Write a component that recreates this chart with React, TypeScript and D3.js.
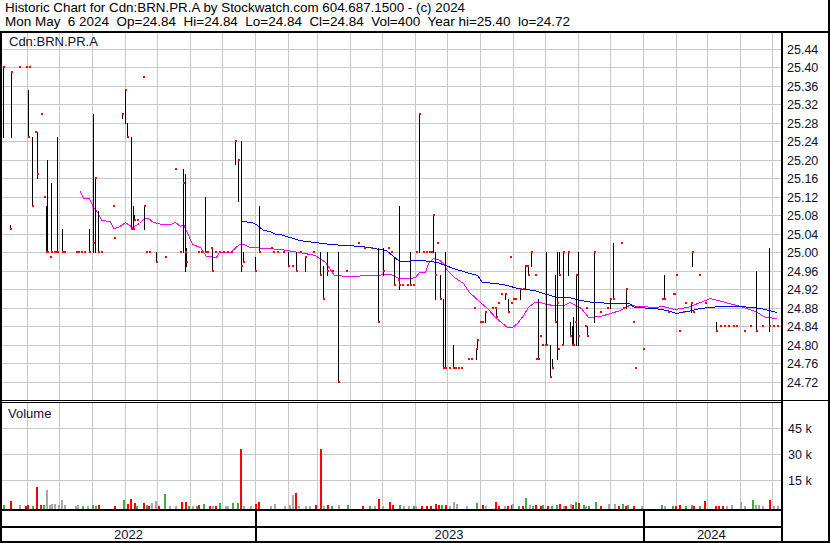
import React from 'react';
import * as d3 from 'd3';

const titleLine1 = 'Historic Chart for Cdn:BRN.PR.A by Stockwatch.com 604.687.1500 - (c) 2024';
const titleLine2 = 'Mon May  6 2024  Op=24.84  Hi=24.84  Lo=24.84  Cl=24.84  Vol=400  Year hi=25.40  lo=24.72';
const symbolLabel = 'Cdn:BRN.PR.A';
const volumeLabel = 'Volume';

const priceTicks = [25.44, 25.40, 25.36, 25.32, 25.28, 25.24, 25.20, 25.16, 25.12, 25.08, 25.04, 25.00, 24.96, 24.92, 24.88, 24.84, 24.80, 24.76, 24.72];
const volumeTicks = [15000, 30000, 45000];
const volumeTickLabels = ['15 k', '30 k', '45 k'];
const monthStarts = ['2022-06-01', '2022-07-01', '2022-08-01', '2022-09-01', '2022-10-01', '2022-11-01', '2022-12-01', '2023-01-01', '2023-02-01', '2023-03-01', '2023-04-01', '2023-05-01', '2023-06-01', '2023-07-01', '2023-08-01', '2023-09-01', '2023-10-01', '2023-11-01', '2023-12-01', '2024-01-01', '2024-02-01', '2024-03-01', '2024-04-01', '2024-05-01'];
const years = ['2022', '2023', '2024'];
const yearBounds = ['2022-05-09', '2023-01-01', '2024-01-01', '2024-05-08'];

// [date, high, low, close]
const priceBars: [string, number, number, number][] = [
  ['2022-05-10', 25.40, 25.25, 25.40], ['2022-05-16', 25.06, 25.05, 25.05], ['2022-05-17', 25.39, 25.25, 25.39],
  ['2022-05-25', 25.40, 25.40, 25.40], ['2022-05-31', 25.40, 25.40, 25.40], ['2022-06-02', 25.35, 25.25, 25.25],
  ['2022-06-03', 25.40, 25.40, 25.40], ['2022-06-06', 25.25, 25.10, 25.10], ['2022-06-09', 25.26, 25.26, 25.26],
  ['2022-06-11', 25.26, 25.16, 25.17], ['2022-06-14', 25.30, 25.30, 25.30], ['2022-06-17', 25.12, 25.12, 25.12],
  ['2022-06-19', 25.10, 25.00, 25.00], ['2022-06-20', 25.20, 25.00, 25.00], ['2022-06-23', 24.99, 24.99, 24.99],
  ['2022-06-24', 25.15, 25.00, 25.00], ['2022-06-27', 25.00, 25.00, 25.00], ['2022-06-28', 25.00, 25.00, 25.00],
  ['2022-06-29', 25.25, 25.00, 25.00], ['2022-07-04', 25.05, 25.00, 25.00], ['2022-07-06', 25.00, 25.00, 25.00],
  ['2022-07-17', 25.00, 25.00, 25.00], ['2022-07-19', 25.00, 25.00, 25.00], ['2022-07-22', 25.00, 25.00, 25.00],
  ['2022-07-25', 25.00, 25.00, 25.00], ['2022-07-29', 25.05, 25.00, 25.00], ['2022-08-02', 25.30, 25.00, 25.02],
  ['2022-08-04', 25.16, 25.00, 25.16], ['2022-08-07', 25.09, 25.00, 25.00], ['2022-08-10', 25.00, 25.00, 25.00],
  ['2022-08-21', 25.10, 25.10, 25.10], ['2022-08-22', 25.03, 25.03, 25.03], ['2022-08-29', 25.30, 25.29, 25.30],
  ['2022-09-01', 25.35, 25.28, 25.35], ['2022-09-03', 25.28, 25.25, 25.25], ['2022-09-07', 25.25, 25.05, 25.05],
  ['2022-09-09', 25.10, 25.05, 25.05], ['2022-09-10', 25.08, 25.07, 25.07], ['2022-09-13', 25.07, 25.07, 25.07],
  ['2022-09-18', 25.38, 25.38, 25.38], ['2022-09-19', 25.10, 25.05, 25.10], ['2022-09-21', 25.00, 25.00, 25.00],
  ['2022-09-24', 25.00, 25.00, 25.00], ['2022-09-30', 25.00, 24.98, 24.98], ['2022-10-09', 24.99, 24.99, 24.99],
  ['2022-10-18', 25.18, 25.18, 25.18], ['2022-10-23', 25.00, 25.00, 25.00], ['2022-10-26', 25.18, 25.00, 25.15],
  ['2022-10-28', 25.17, 24.96, 25.00], ['2022-10-29', 25.01, 24.97, 24.98], ['2022-11-09', 25.00, 25.00, 25.00],
  ['2022-11-12', 25.00, 25.00, 25.00], ['2022-11-15', 25.12, 25.00, 25.00], ['2022-11-17', 25.00, 25.00, 25.00],
  ['2022-11-21', 25.01, 25.01, 25.01], ['2022-11-22', 25.01, 24.96, 24.96], ['2022-11-25', 25.00, 25.00, 25.00],
  ['2022-11-29', 25.00, 25.00, 25.00], ['2022-12-02', 25.00, 25.00, 25.00], ['2022-12-06', 25.00, 25.00, 25.00],
  ['2022-12-10', 25.00, 25.00, 25.00], ['2022-12-14', 25.24, 25.19, 25.24], ['2022-12-16', 25.20, 25.11, 25.20],
  ['2022-12-19', 25.24, 24.96, 24.97], ['2022-12-21', 25.00, 24.98, 24.98], ['2023-01-01', 24.99, 24.96, 24.96],
  ['2023-01-05', 25.10, 25.00, 25.00], ['2023-01-16', 25.01, 25.01, 25.01], ['2023-01-18', 25.00, 25.00, 25.00],
  ['2023-01-22', 25.00, 25.00, 25.00], ['2023-01-28', 25.00, 25.00, 25.00], ['2023-02-01', 25.00, 24.97, 24.97],
  ['2023-02-05', 24.97, 24.97, 24.97], ['2023-02-09', 25.00, 24.96, 24.96], ['2023-02-13', 25.00, 25.00, 25.00],
  ['2023-02-17', 24.99, 24.96, 24.99], ['2023-02-25', 25.00, 25.00, 25.00], ['2023-03-03', 25.00, 24.95, 24.95],
  ['2023-03-06', 24.97, 24.90, 24.90], ['2023-03-10', 25.00, 24.95, 24.96], ['2023-03-15', 24.96, 24.96, 24.96],
  ['2023-03-20', 25.00, 24.72, 24.72], ['2023-03-28', 24.96, 24.96, 24.96], ['2023-04-08', 25.02, 25.02, 25.02],
  ['2023-04-14', 25.01, 25.01, 25.01], ['2023-04-20', 25.01, 25.01, 25.01], ['2023-04-27', 25.01, 24.85, 24.85],
  ['2023-05-02', 25.01, 24.95, 24.96], ['2023-05-06', 25.01, 25.01, 25.01], ['2023-05-09', 25.00, 25.00, 25.00],
  ['2023-05-12', 24.99, 24.93, 24.93], ['2023-05-16', 24.94, 24.94, 24.94], ['2023-05-17', 25.10, 24.92, 24.93],
  ['2023-05-19', 24.93, 24.93, 24.93], ['2023-05-24', 24.93, 24.93, 24.93], ['2023-05-27', 25.00, 24.93, 24.93],
  ['2023-05-30', 24.93, 24.93, 24.93], ['2023-06-02', 25.00, 25.00, 25.00], ['2023-06-04', 25.30, 25.00, 25.30],
  ['2023-06-08', 25.00, 25.00, 25.00], ['2023-06-11', 25.00, 25.00, 25.00], ['2023-06-14', 25.00, 25.00, 25.00],
  ['2023-06-16', 25.00, 25.00, 25.00], ['2023-06-18', 25.08, 25.00, 25.08], ['2023-06-19', 25.00, 24.90, 24.95],
  ['2023-06-21', 25.02, 25.02, 25.02], ['2023-06-24', 24.95, 24.90, 24.90], ['2023-06-27', 24.90, 24.75, 24.75],
  ['2023-06-29', 25.00, 24.75, 24.75], ['2023-07-03', 24.75, 24.75, 24.75], ['2023-07-06', 24.80, 24.75, 24.75],
  ['2023-07-08', 24.75, 24.75, 24.75], ['2023-07-11', 24.75, 24.75, 24.75], ['2023-07-14', 24.75, 24.75, 24.75],
  ['2023-07-20', 24.77, 24.77, 24.77], ['2023-07-23', 24.77, 24.77, 24.77], ['2023-07-26', 24.88, 24.88, 24.88],
  ['2023-07-28', 24.79, 24.77, 24.79], ['2023-07-29', 24.81, 24.79, 24.81], ['2023-08-01', 24.85, 24.85, 24.85],
  ['2023-08-03', 24.85, 24.85, 24.85], ['2023-08-05', 24.87, 24.85, 24.87], ['2023-08-12', 24.88, 24.88, 24.88],
  ['2023-08-15', 24.88, 24.88, 24.88], ['2023-08-16', 24.88, 24.86, 24.86], ['2023-08-18', 24.89, 24.89, 24.89],
  ['2023-08-20', 24.91, 24.91, 24.91], ['2023-08-24', 24.91, 24.90, 24.91], ['2023-08-27', 24.90, 24.87, 24.87],
  ['2023-08-29', 24.99, 24.99, 24.99], ['2023-08-30', 24.89, 24.89, 24.89], ['2023-09-01', 24.90, 24.90, 24.90],
  ['2023-09-03', 24.90, 24.90, 24.90], ['2023-09-07', 24.92, 24.90, 24.92], ['2023-09-10', 24.92, 24.92, 24.92],
  ['2023-09-12', 24.97, 24.92, 24.97], ['2023-09-14', 24.97, 24.97, 24.97], ['2023-09-15', 24.97, 24.95, 24.95],
  ['2023-09-18', 25.00, 24.97, 25.00], ['2023-09-21', 24.95, 24.95, 24.95], ['2023-09-22', 24.77, 24.77, 24.77],
  ['2023-09-24', 24.90, 24.77, 24.77], ['2023-09-26', 24.82, 24.82, 24.82], ['2023-09-28', 24.80, 24.80, 24.80],
  ['2023-10-01', 24.80, 24.80, 24.80], ['2023-10-02', 25.00, 24.80, 24.80], ['2023-10-05', 24.80, 24.73, 24.73],
  ['2023-10-07', 24.77, 24.75, 24.75], ['2023-10-10', 24.95, 24.85, 24.85], ['2023-10-12', 25.00, 24.77, 24.89],
  ['2023-10-13', 24.79, 24.79, 24.79], ['2023-10-14', 25.00, 24.95, 24.95], ['2023-10-17', 24.80, 24.80, 24.80],
  ['2023-10-18', 25.00, 24.80, 25.00], ['2023-10-22', 25.00, 24.95, 25.00], ['2023-10-24', 24.85, 24.82, 24.82],
  ['2023-10-26', 24.84, 24.80, 24.80], ['2023-10-27', 24.86, 24.80, 24.80], ['2023-10-29', 24.85, 24.85, 24.85],
  ['2023-10-30', 24.95, 24.80, 24.95], ['2023-11-01', 25.00, 24.80, 24.82], ['2023-11-07', 24.84, 24.84, 24.84],
  ['2023-11-08', 24.88, 24.88, 24.88], ['2023-11-09', 24.84, 24.82, 24.82], ['2023-11-16', 25.00, 24.85, 25.00],
  ['2023-11-21', 24.87, 24.87, 24.87], ['2023-11-28', 24.88, 24.88, 24.88], ['2023-12-01', 24.90, 24.88, 24.90],
  ['2023-12-04', 25.02, 24.90, 24.90], ['2023-12-11', 25.02, 25.02, 25.02], ['2023-12-13', 24.88, 24.88, 24.88],
  ['2023-12-16', 24.92, 24.88, 24.92], ['2023-12-22', 24.85, 24.85, 24.85], ['2023-12-24', 24.75, 24.75, 24.75],
  ['2024-01-01', 24.79, 24.79, 24.79], ['2024-01-19', 24.90, 24.90, 24.90], ['2024-01-21', 24.95, 24.90, 24.90],
  ['2024-01-24', 24.87, 24.87, 24.87], ['2024-01-29', 24.91, 24.91, 24.91], ['2024-01-30', 24.91, 24.91, 24.91],
  ['2024-02-01', 24.95, 24.95, 24.95], ['2024-02-04', 24.83, 24.83, 24.83], ['2024-02-07', 24.87, 24.87, 24.87],
  ['2024-02-09', 24.89, 24.89, 24.89], ['2024-02-15', 24.89, 24.87, 24.89], ['2024-02-16', 25.00, 24.97, 25.00],
  ['2024-02-17', 24.87, 24.87, 24.87], ['2024-02-22', 24.95, 24.95, 24.95], ['2024-02-28', 24.89, 24.89, 24.89],
  ['2024-03-09', 24.85, 24.83, 24.83], ['2024-03-13', 24.84, 24.84, 24.84], ['2024-03-17', 24.84, 24.84, 24.84],
  ['2024-03-21', 24.84, 24.84, 24.84], ['2024-03-25', 24.84, 24.84, 24.84], ['2024-03-28', 24.84, 24.84, 24.84],
  ['2024-04-05', 24.83, 24.83, 24.83], ['2024-04-10', 24.84, 24.84, 24.84], ['2024-04-16', 24.96, 24.83, 24.83],
  ['2024-04-22', 24.84, 24.84, 24.84], ['2024-04-28', 25.01, 24.83, 24.84], ['2024-05-02', 24.84, 24.84, 24.84],
  ['2024-05-06', 24.84, 24.84, 24.84],
];

// [date, volume, direction]  u = up, d = down, n = unchanged
const volumes: [string, number, string][] = [
  ['2022-05-10', 600, 'u'], ['2022-05-16', 3100, 'd'], ['2022-05-25', 800, 'n'], ['2022-05-30', 300, 'd'],
  ['2022-06-01', 600, 'd'], ['2022-06-06', 300, 'u'], ['2022-06-10', 11100, 'd'], ['2022-06-13', 600, 'd'],
  ['2022-06-16', 600, 'u'], ['2022-06-19', 9400, 'n'], ['2022-06-22', 800, 'n'], ['2022-06-24', 1200, 'n'],
  ['2022-06-27', 1400, 'n'], ['2022-06-30', 800, 'n'], ['2022-07-03', 3700, 'n'], ['2022-07-06', 800, 'n'],
  ['2022-07-16', 300, 'n'], ['2022-07-18', 800, 'n'], ['2022-07-23', 300, 'u'], ['2022-07-28', 300, 'n'],
  ['2022-08-01', 600, 'u'], ['2022-08-04', 300, 'u'], ['2022-08-07', 800, 'd'], ['2022-08-22', 100, 'd'],
  ['2022-08-30', 3700, 'u'], ['2022-09-03', 1200, 'd'], ['2022-09-06', 4400, 'd'], ['2022-09-10', 1800, 'd'],
  ['2022-09-12', 300, 'u'], ['2022-09-18', 1800, 'd'], ['2022-09-21', 600, 'u'], ['2022-09-23', 300, 'd'],
  ['2022-09-26', 1800, 'n'], ['2022-09-29', 3100, 'n'], ['2022-10-02', 300, 'd'], ['2022-10-08', 7100, 'u'],
  ['2022-10-13', 300, 'n'], ['2022-10-18', 300, 'n'], ['2022-10-24', 2500, 'd'], ['2022-10-28', 2500, 'd'],
  ['2022-10-30', 300, 'u'], ['2022-11-03', 300, 'n'], ['2022-11-07', 200, 'u'], ['2022-11-09', 600, 'd'],
  ['2022-11-14', 1200, 'u'], ['2022-11-19', 200, 'd'], ['2022-11-22', 300, 'n'], ['2022-11-25', 100, 'd'],
  ['2022-11-29', 1800, 'u'], ['2022-12-04', 200, 'n'], ['2022-12-06', 300, 'n'], ['2022-12-11', 1800, 'u'],
  ['2022-12-15', 1800, 'u'], ['2022-12-18', 33000, 'd'], ['2022-12-21', 300, 'n'], ['2022-12-28', 100, 'n'],
  ['2023-01-01', 1400, 'd'], ['2023-01-04', 2500, 'd'], ['2023-01-15', 300, 'n'], ['2023-01-19', 1400, 'n'],
  ['2023-01-29', 300, 'n'], ['2023-02-02', 600, 'n'], ['2023-02-05', 6500, 'n'], ['2023-02-08', 7600, 'd'],
  ['2023-02-11', 300, 'n'], ['2023-02-17', 300, 'n'], ['2023-02-21', 300, 'n'], ['2023-02-27', 800, 'd'],
  ['2023-03-03', 33000, 'd'], ['2023-03-06', 300, 'n'], ['2023-03-10', 800, 'd'], ['2023-03-14', 300, 'u'],
  ['2023-03-20', 800, 'n'], ['2023-03-29', 600, 'u'], ['2023-04-12', 200, 'd'], ['2023-04-18', 200, 'u'],
  ['2023-04-23', 300, 'n'], ['2023-04-27', 4200, 'd'], ['2023-05-01', 300, 'n'], ['2023-05-07', 2500, 'd'],
  ['2023-05-10', 800, 'd'], ['2023-05-17', 800, 'u'], ['2023-05-20', 300, 'n'], ['2023-05-25', 300, 'n'],
  ['2023-05-30', 200, 'u'], ['2023-06-01', 200, 'n'], ['2023-06-06', 200, 'd'], ['2023-06-11', 200, 'd'],
  ['2023-06-15', 200, 'd'], ['2023-06-19', 1400, 'd'], ['2023-06-22', 800, 'd'], ['2023-06-25', 800, 'u'],
  ['2023-06-29', 800, 'd'], ['2023-07-03', 200, 'n'], ['2023-07-06', 2500, 'n'], ['2023-07-09', 1400, 'n'],
  ['2023-07-19', 300, 'n'], ['2023-07-28', 1800, 'u'], ['2023-08-03', 800, 'd'], ['2023-08-05', 300, 'n'],
  ['2023-08-15', 2500, 'd'], ['2023-08-18', 300, 'd'], ['2023-08-23', 300, 'n'], ['2023-08-26', 300, 'd'],
  ['2023-08-30', 600, 'd'], ['2023-08-31', 1200, 'n'], ['2023-09-05', 200, 'u'], ['2023-09-09', 300, 'd'],
  ['2023-09-12', 5000, 'u'], ['2023-09-16', 800, 'n'], ['2023-09-19', 300, 'u'], ['2023-09-21', 600, 'd'],
  ['2023-09-26', 300, 'd'], ['2023-09-28', 600, 'u'], ['2023-10-03', 200, 'd'], ['2023-10-06', 300, 'u'],
  ['2023-10-11', 600, 'u'], ['2023-10-14', 1400, 'd'], ['2023-10-18', 300, 'n'], ['2023-10-20', 300, 'd'],
  ['2023-10-24', 1400, 'n'], ['2023-10-26', 600, 'd'], ['2023-10-29', 2700, 'u'], ['2023-11-01', 1800, 'd'],
  ['2023-11-05', 800, 'u'], ['2023-11-07', 300, 'n'], ['2023-11-10', 200, 'u'], ['2023-11-17', 2500, 'u'],
  ['2023-11-21', 200, 'd'], ['2023-11-29', 1200, 'n'], ['2023-12-05', 1400, 'n'], ['2023-12-08', 300, 'd'],
  ['2023-12-12', 1200, 'u'], ['2023-12-15', 200, 'd'], ['2023-12-17', 800, 'u'], ['2023-12-22', 200, 'd'],
  ['2023-12-30', 200, 'n'], ['2024-01-18', 600, 'u'], ['2024-01-21', 300, 'n'], ['2024-01-28', 300, 'u'],
  ['2024-01-31', 300, 'd'], ['2024-02-04', 800, 'd'], ['2024-02-09', 300, 'u'], ['2024-02-15', 800, 'u'],
  ['2024-02-17', 300, 'd'], ['2024-02-22', 300, 'u'], ['2024-02-27', 3100, 'd'], ['2024-03-08', 200, 'd'],
  ['2024-03-11', 200, 'd'], ['2024-03-15', 200, 'd'], ['2024-03-19', 300, 'n'], ['2024-03-23', 800, 'n'],
  ['2024-04-01', 2700, 'n'], ['2024-04-05', 300, 'n'], ['2024-04-12', 3700, 'u'], ['2024-04-15', 800, 'n'],
  ['2024-04-18', 800, 'n'], ['2024-04-22', 300, 'n'], ['2024-04-28', 3700, 'd'], ['2024-05-02', 300, 'n'],
  ['2024-05-06', 400, 'n'],
];

// short moving average (magenta) [date, value]
const maShort: [string, number][] = [
  ['2022-07-21', 25.132], ['2022-07-24', 25.118], ['2022-07-29', 25.118], ['2022-08-02', 25.099], ['2022-08-07', 25.085],
  ['2022-08-10', 25.070], ['2022-08-18', 25.067], ['2022-08-21', 25.052], ['2022-08-26', 25.055], ['2022-09-01', 25.065],
  ['2022-09-08', 25.055], ['2022-09-14', 25.063], ['2022-09-19', 25.074], ['2022-09-23', 25.074], ['2022-09-28', 25.065],
  ['2022-10-06', 25.061], ['2022-10-14', 25.061], ['2022-10-18', 25.065], ['2022-10-23', 25.057], ['2022-10-26', 25.061],
  ['2022-10-28', 25.052], ['2022-10-31', 25.034], ['2022-11-03', 25.018], ['2022-11-11', 25.012], ['2022-11-16', 24.992],
  ['2022-11-26', 24.990], ['2022-11-29', 25.000], ['2022-12-09', 25.000], ['2022-12-17', 25.018], ['2022-12-21', 25.018],
  ['2022-12-28', 25.012], ['2023-01-12', 25.010], ['2023-01-25', 25.007], ['2023-02-12', 25.001], ['2023-02-27', 24.994],
  ['2023-03-08', 24.979], ['2023-03-17', 24.951], ['2023-03-31', 24.949], ['2023-04-20', 24.951], ['2023-05-08', 24.953],
  ['2023-05-17', 24.944], ['2023-05-27', 24.944], ['2023-06-01', 24.947], ['2023-06-04', 24.957], ['2023-06-10', 24.958],
  ['2023-06-13', 24.976], ['2023-06-18', 24.988], ['2023-06-22', 24.985], ['2023-06-27', 24.976], ['2023-07-01', 24.962],
  ['2023-07-07', 24.947], ['2023-07-16', 24.933], ['2023-07-21', 24.915], ['2023-08-01', 24.893], ['2023-08-07', 24.879],
  ['2023-08-16', 24.857], ['2023-08-26', 24.839], ['2023-08-31', 24.838], ['2023-09-04', 24.848], ['2023-09-10', 24.864],
  ['2023-09-15', 24.882], ['2023-09-20', 24.893], ['2023-09-26', 24.893], ['2023-10-02', 24.888], ['2023-10-09', 24.886],
  ['2023-10-18', 24.886], ['2023-10-24', 24.893], ['2023-10-29', 24.886], ['2023-11-04', 24.879], ['2023-11-10', 24.861],
  ['2023-11-21', 24.862], ['2023-12-01', 24.868], ['2023-12-10', 24.875], ['2023-12-19', 24.886], ['2023-12-29', 24.884],
  ['2024-01-11', 24.882], ['2024-01-20', 24.884], ['2024-01-30', 24.877], ['2024-02-11', 24.881], ['2024-02-23', 24.893],
  ['2024-03-04', 24.901], ['2024-03-18', 24.893], ['2024-04-01', 24.884], ['2024-04-15', 24.873], ['2024-04-24', 24.861],
  ['2024-05-06', 24.858],
];

// long moving average (blue) [date, value]
const maLong: [string, number][] = [
  ['2022-12-19', 25.067], ['2022-12-30', 25.065], ['2023-01-03', 25.058], ['2023-01-09', 25.048], ['2023-01-15', 25.045],
  ['2023-01-20', 25.040], ['2023-01-25', 25.040], ['2023-02-12', 25.027], ['2023-03-13', 25.018], ['2023-04-11', 25.014],
  ['2023-05-04', 25.005], ['2023-05-17', 24.981], ['2023-06-06', 24.983], ['2023-06-21', 24.980], ['2023-06-29', 24.972],
  ['2023-07-06', 24.965], ['2023-07-19', 24.958], ['2023-07-29', 24.951], ['2023-08-03', 24.936], ['2023-08-16', 24.933],
  ['2023-08-26', 24.929], ['2023-09-04', 24.922], ['2023-09-20', 24.918], ['2023-09-29', 24.911], ['2023-10-12', 24.904],
  ['2023-10-21', 24.904], ['2023-10-27', 24.901], ['2023-11-03', 24.897], ['2023-11-15', 24.893], ['2023-12-04', 24.890],
  ['2023-12-19', 24.890], ['2023-12-23', 24.882], ['2024-01-11', 24.879], ['2024-01-23', 24.875], ['2024-02-01', 24.869],
  ['2024-02-11', 24.872], ['2024-02-23', 24.879], ['2024-03-13', 24.884], ['2024-04-01', 24.884], ['2024-04-20', 24.879],
  ['2024-05-06', 24.871],
];

const FONT = 'Arial, "Liberation Sans", sans-serif';
const GRID = '#c8c8c8';
const TEXT = '#10102a';

export default function App() {
  const parse = d3.utcParse('%Y-%m-%d');
  const P = (s: string) => parse(s) as Date;

  // layout
  const plotL = 2, plotR = 781;
  const priceTop = 33, priceBot = 400;
  const volTop = 402, volBot = 509;

  const x = d3.scaleUtc().domain([P('2023-01-01'), P('2024-01-01')]).range([254.6, 643.2]);
  const y = d3.scaleLinear().domain([24.72, 25.44]).range([381.8, 48.8]);
  const yv = d3.scaleLinear().domain([0, 45000]).range([506.3, 428.3]);

  const px = (s: string) => Math.round(x(P(s)));

  const maLine = d3.line<[string, number]>().x(d => Math.round(x(P(d[0]))) + 0.5).y(d => Math.round(y(d[1])) + 0.5);

  const volColor: Record<string, string> = { u: '#3cb043', d: '#ff0000', n: '#a8a8a8' };

  return (
    <svg width={830} height={543} style={{ position: 'absolute', left: 0, top: 0, display: 'block' }} fontFamily={FONT}>
      <rect x={0} y={0} width={830} height={543} fill="#ffffff" />

      {/* grid */}
      <g shapeRendering="crispEdges" stroke={GRID} strokeWidth={1}>
        {priceTicks.map(t => (
          <line key={'pg' + t} x1={plotL} x2={plotR} y1={Math.round(y(t)) + 0.5} y2={Math.round(y(t)) + 0.5} />
        ))}
        {volumeTicks.map(t => (
          <line key={'vg' + t} x1={plotL} x2={plotR} y1={Math.round(yv(t)) + 0.5} y2={Math.round(yv(t)) + 0.5} />
        ))}
        {monthStarts.map(m => (
          <g key={'mg' + m}>
            <line x1={px(m) + 0.5} x2={px(m) + 0.5} y1={priceTop} y2={priceBot} />
            <line x1={px(m) + 0.5} x2={px(m) + 0.5} y1={volTop} y2={volBot} />
          </g>
        ))}
      </g>

      {/* moving averages */}
      <path d={maLine(maShort) || ''} fill="none" stroke="#ff00ff" strokeWidth={1} shapeRendering="crispEdges" />
      <path d={maLine(maLong) || ''} fill="none" stroke="#0000ff" strokeWidth={1} shapeRendering="crispEdges" />

      {/* price bars */}
      <g shapeRendering="crispEdges">
        {priceBars.map(([d, hi, lo]) => {
          const bx = px(d);
          const yh = Math.round(y(hi)), yl = Math.round(y(lo));
          return <rect key={'b' + d} x={bx} y={yh} width={1} height={Math.max(1, yl - yh + 1)} fill="#000000" />;
        })}
        {priceBars.map(([d, , , cl]) => {
          const bx = px(d);
          const yc = Math.round(y(cl));
          return <rect key={'c' + d} x={bx} y={yc - 1} width={2} height={2} fill="#ff0000" />;
        })}
      </g>

      {/* volume bars */}
      <g shapeRendering="crispEdges">
        {volumes.map(([d, v, dir]) => {
          const bx = px(d);
          const top = Math.min(Math.round(yv(v)), volBot - 2);
          return <rect key={'v' + d} x={bx} y={top} width={2} height={volBot - top} fill={volColor[dir]} />;
        })}
      </g>

      {/* frame */}
      <g shapeRendering="crispEdges" fill="#000000">
        <rect x={0} y={31} width={830} height={2} />
        <rect x={0} y={31} width={2} height={512} />
        <rect x={828} y={0} width={2} height={543} />
        <rect x={781} y={31} width={2} height={512} />
        <rect x={0} y={400} width={830} height={1} />
        <rect x={0} y={402} width={781} height={1} />
        <rect x={0} y={509} width={783} height={2} />
        <rect x={0} y={526} width={783} height={2} />
        <rect x={0} y={541} width={830} height={2} />
        {yearBounds.slice(1, 3).map(b => (
          <rect key={'yb' + b} x={px(b)} y={510} width={2} height={32} />
        ))}
      </g>

      {/* texts */}
      <text x={5} y={12} fontSize={13} fill="#000000" textLength={460} lengthAdjust="spacingAndGlyphs">{titleLine1}</text>
      <text x={5} y={26} fontSize={13} fill="#000000" style={{ whiteSpace: 'pre' }} textLength={565} lengthAdjust="spacingAndGlyphs">{titleLine2}</text>
      <text x={9} y={46} fontSize={13} fill={TEXT}>{symbolLabel}</text>
      <text x={8} y={418} fontSize={13} fill={TEXT}>{volumeLabel}</text>

      {priceTicks.map(t => (
        <text key={'pl' + t} x={787} y={Math.round(y(t)) + 5} fontSize={12.5} fill={TEXT}>{t.toFixed(2)}</text>
      ))}
      {volumeTicks.map((t, i) => (
        <text key={'vl' + t} x={788} y={Math.round(yv(t)) + 5} fontSize={12.5} fill={TEXT}>{volumeTickLabels[i]}</text>
      ))}
      {years.map((yr, i) => {
        const cx = (Math.max(plotL, x(P(yearBounds[i]))) + Math.min(plotR, x(P(yearBounds[i + 1])))) / 2;
        return <text key={'yr' + yr} x={cx} y={539} fontSize={13} textAnchor="middle" fill={TEXT}>{yr}</text>;
      })}
    </svg>
  );
}
